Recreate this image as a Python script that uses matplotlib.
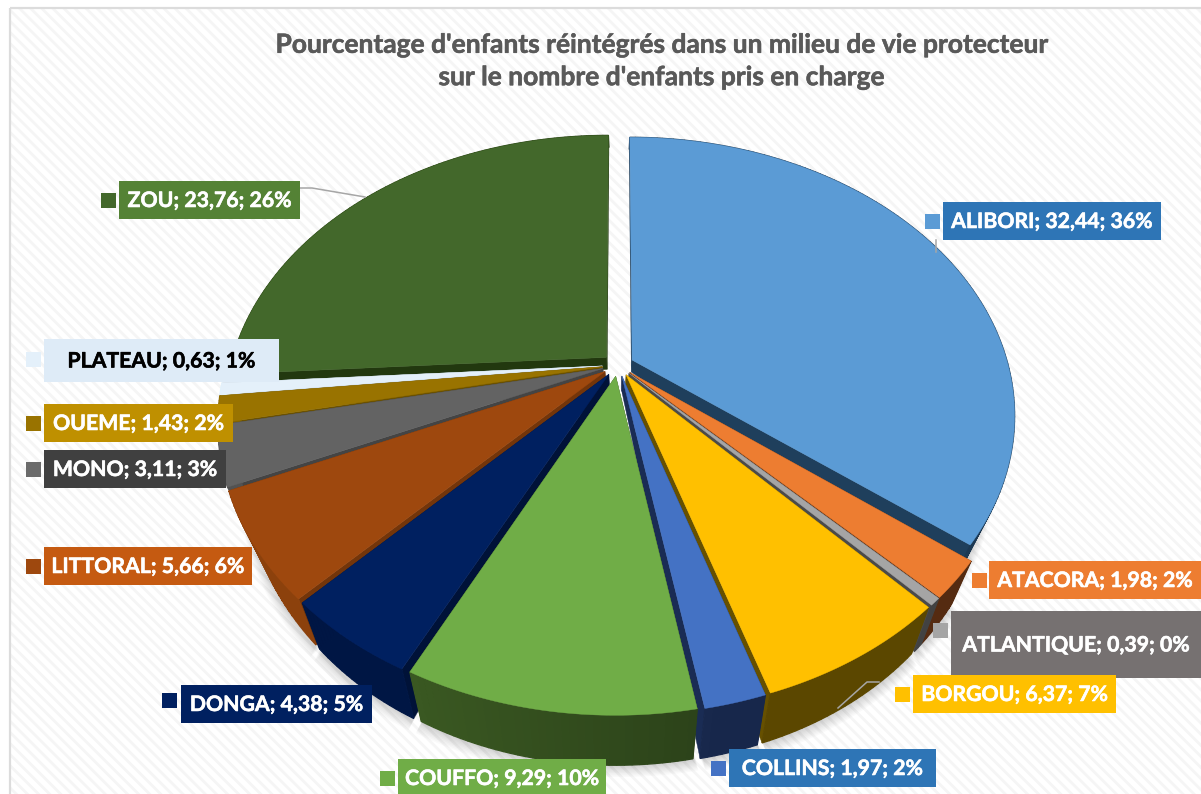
import numpy as np
import matplotlib
matplotlib.use("Agg")
import matplotlib.pyplot as plt
import matplotlib.patheffects as pe
from matplotlib.patches import Rectangle

plt.rcParams['font.family'] = ['Lato', 'DejaVu Sans']
plt.rcParams['hatch.linewidth'] = 2.0

# ---------------- Data ----------------
departements = ["ALIBORI", "ATACORA", "ATLANTIQUE", "BORGOU", "COLLINS", "COUFFO",
                "DONGA", "LITTORAL", "MONO", "OUEME", "PLATEAU", "ZOU"]
valeurs = [32.44, 1.98, 0.39, 6.37, 1.97, 9.29, 4.38, 5.66, 3.11, 1.43, 0.63, 23.76]
valeurs_txt = ["32,44", "1,98", "0,39", "6,37", "1,97", "9,29", "4,38", "5,66", "3,11", "1,43", "0,63", "23,76"]
pourcents = ["36%", "2%", "0%", "7%", "2%", "10%", "5%", "6%", "3%", "2%", "1%", "26%"]
titre = "Pourcentage d'enfants réintégrés dans un milieu de vie protecteur\nsur le nombre d'enfants pris en charge"

# ---------------- Styles ----------------
top_colors = ["#5B9BD5", "#ED7D31", "#A5A5A5", "#FFC000", "#4472C4", "#70AD47",
              "#002060", "#9E480E", "#636363", "#997300", "#E4F0FA", "#43682B"]
wall_colors = ["#1F3F5C", "#5F3013", "#4A4A4A", "#665000", "#1A2C54", "#30491C",
               "#001238", "#73350A", "#444444", "#6B5100", "#B8C8D6", "#22380F"]

# box x0, y0, x1, y1, box colour, text colour, key x0, key y0, key colour
label_layout = {
    "ZOU": (119, 181, 300, 219, "#548235", "white", 101, 193, "#43682B"),
    "ALIBORI": (943, 202, 1161, 240, "#2E75B6", "white", 925, 214, "#5B9BD5"),
    "PLATEAU": (44, 339, 279, 382, "#DEEBF7", "black", 26, 352, "#E4F0FA"),
    "OUEME": (44, 404, 233, 442, "#BF9000", "white", 26, 416, "#997300"),
    "MONO": (44, 450, 226, 488, "#404040", "white", 26, 462, "#6B6B6B"),
    "LITTORAL": (44, 547, 252, 585, "#C55A11", "white", 26, 559, "#9E480E"),
    "DONGA": (181, 685, 372, 723, "#002060", "white", 162, 693, "#002060"),
    "COUFFO": (398, 759, 606, 797, "#70AD47", "white", 380, 771, "#70AD47"),
    "COLLINS": (729, 749, 936, 787, "#2E75B6", "white", 711, 761, "#4472C4"),
    "ATLANTIQUE": (951, 611, 1201, 678, "#767171", "white", 933, 623, "#A5A5A5"),
    "BORGOU": (913, 675, 1116, 713, "#FFC000", "white", 895, 687, "#FFC000"),
    "ATACORA": (989, 561, 1201, 599, "#ED7D31", "white", 972, 573, "#ED7D31"),
}

# projection settings, in pixels
cx, cy = 618, 365
A, B, K = 376, 268, 0.195
EXPLODE = 0.042


def project(x, y):
    w = 1 + K * y
    return cx + A * x / w, cy - B * y / w


def drop(sx, sy):
    # point on the underside of the pie below a point of the top face
    t = np.clip((sy - cy) / 347, 0, 1)
    depth = 12 + 38 * (1 - (1 - t) ** 2)
    return cx + (sx - cx) * 0.945, sy + depth


def shade(hex_color, f):
    rgb = np.array(matplotlib.colors.to_rgb(hex_color)) * f
    return tuple(np.clip(rgb, 0, 1))


fig = plt.figure(figsize=(12.01, 7.94), dpi=100, facecolor="white")
ax = fig.add_axes([0, 0, 1, 1])
ax.set_xlim(0, 1201)
ax.set_ylim(794, 0)
ax.axis("off")

# chart area with its hatched background
ax.add_patch(Rectangle((10, 8), 1195, 800, facecolor="white", edgecolor="#F5F5F5", lw=0,
                       hatch="\\\\\\", zorder=0))
ax.add_patch(Rectangle((10, 8), 1195, 800, fill=False, edgecolor="#DCDCDC", lw=1.6, zorder=0.5))

# slices
fractions = np.array(valeurs) / np.sum(valeurs)
ends = np.cumsum(fractions) * 2 * np.pi
starts = ends - fractions * 2 * np.pi
mids = (starts + ends) / 2

slices = []
for i in range(len(valeurs)):
    n = max(3, int(np.degrees(ends[i] - starts[i])) + 2)
    t = np.linspace(starts[i], ends[i], n)
    ox, oy = EXPLODE * np.sin(mids[i]), EXPLODE * np.cos(mids[i])
    rim_x, rim_y = project(ox + np.sin(t), oy + np.cos(t))
    apex_x, apex_y = project(ox, oy)
    slices.append((i, rim_x, rim_y, float(apex_x), float(apex_y)))

# soft shadow below the pie
for k in range(1, 10):
    for i, rim_x, rim_y, apex_x, apex_y in slices:
        bx, by = drop(rim_x, rim_y)
        ax2, ay2 = drop(apex_x, apex_y)
        ax.fill(np.r_[ax2, bx + 0.6 * k * np.sign(bx - cx)], np.r_[ay2, by + 1.3 * k],
                color="black", alpha=0.02, lw=0, zorder=1)

# back to front so the nearer slices cover the others
order = np.argsort(-np.cos(mids))
z = 2
for idx in order:
    i, rim_x, rim_y, apex_x, apex_y = slices[idx]
    wall = wall_colors[i]
    bx, by = drop(rim_x, rim_y)
    bax, bay = drop(apex_x, apex_y)

    # cut faces
    ax.fill([apex_x, rim_x[0], bx[0], bax], [apex_y, rim_y[0], by[0], bay], color=wall, lw=0.3, zorder=z)
    ax.fill([apex_x, rim_x[-1], bx[-1], bax], [apex_y, rim_y[-1], by[-1], bay], color=wall, lw=0.3, zorder=z)

    # outer wall, lighter towards the left
    for j in range(len(rim_x) - 1):
        f = 1.0 + 0.22 * np.clip((cx - rim_x[j]) / 220, -0.5, 1)
        c = shade(wall, f)
        ax.fill([rim_x[j], rim_x[j + 1], bx[j + 1], bx[j]], [rim_y[j], rim_y[j + 1], by[j + 1], by[j]],
                color=c, lw=0.9, zorder=z)

    # top face
    ax.fill(np.r_[apex_x, rim_x], np.r_[apex_y, rim_y], color=top_colors[i], lw=0.3, zorder=z + 0.5)
    z += 1

# leader lines
ax.plot([300, 312, 365], [188, 188, 197], color="#A6A6A6", lw=1.1, zorder=40)
ax.plot([936, 936], [240, 252], color="#A6A6A6", lw=1.1, zorder=40)
ax.plot([879, 867, 838], [682, 682, 708], color="#A6A6A6", lw=1.1, zorder=40)

# data labels
for name, val, pct in zip(departements, valeurs_txt, pourcents):
    x0, y0, x1, y1, box_c, txt_c, kx, ky, key_c = label_layout[name]
    ax.add_patch(Rectangle((x0, y0), x1 - x0, y1 - y0, facecolor=box_c, edgecolor="none", zorder=50))
    ax.add_patch(Rectangle((kx, ky), 15, 15, facecolor=key_c, edgecolor="none", zorder=50))
    ax.text((x0 + x1) / 2, (y0 + y1) / 2 + 1, f"{name}; {val}; {pct}",
            color=txt_c, fontsize=15.3, fontweight="bold", ha="center", va="center", zorder=51,
            path_effects=[pe.withStroke(linewidth=0.4, foreground=txt_c)])

ax.text(661, 61, titre, color="#595959", fontsize=19.0, fontweight="bold", ha="center", va="center",
        linespacing=1.42, zorder=51, path_effects=[pe.withStroke(linewidth=0.4, foreground="#595959")])

fig.savefig("out.png", dpi=100, facecolor="white")
